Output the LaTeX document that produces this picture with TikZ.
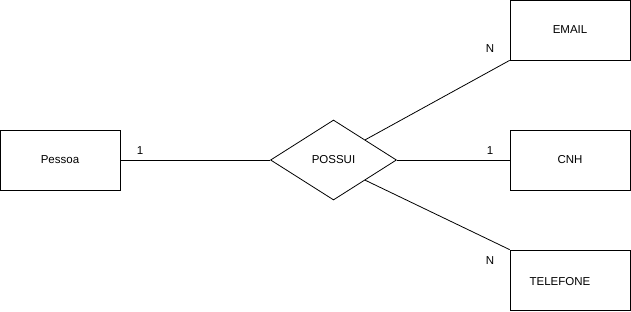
\documentclass[tikz,border=0pt]{standalone}
\usepackage{fontspec}
\setmainfont{Liberation Sans}
\usetikzlibrary{shapes.geometric}
\begin{document}
\begin{tikzpicture}[x=1pt, y=1pt, line width=0.8pt,
  font=\fontsize{11.5}{13}\selectfont,
  ent/.style={draw, rectangle, minimum width=120, minimum height=60, inner sep=0},
  rel/.style={draw, diamond, minimum width=126, minimum height=80, inner sep=0},
  card/.style={inner sep=0}]
\useasboundingbox (0,0) rectangle (631,-311);
\node[ent] (pessoa) at (60,-160) {Pessoa};
\node[rel] (possui) at (333.5,-160) {POSSUI};
\node[ent] (email) at (570,-30) {EMAIL};
\node[ent] (cnh) at (570,-160) {CNH};
\node[ent] (telefone) at (570,-280) {};
\node at (560,-282) {TELEFONE};

\draw (pessoa.east)--(possui.west);
\draw (possui.north east)--(email.south west);
\draw (possui.east)--(cnh.west);
\draw (possui.south east)--(telefone.north west);

\node[card] at (140,-151) {1};
\node[card] at (490,-49) {N};
\node[card] at (490,-151) {1};
\node[card] at (490,-261) {N};
\end{tikzpicture}
\end{document}
